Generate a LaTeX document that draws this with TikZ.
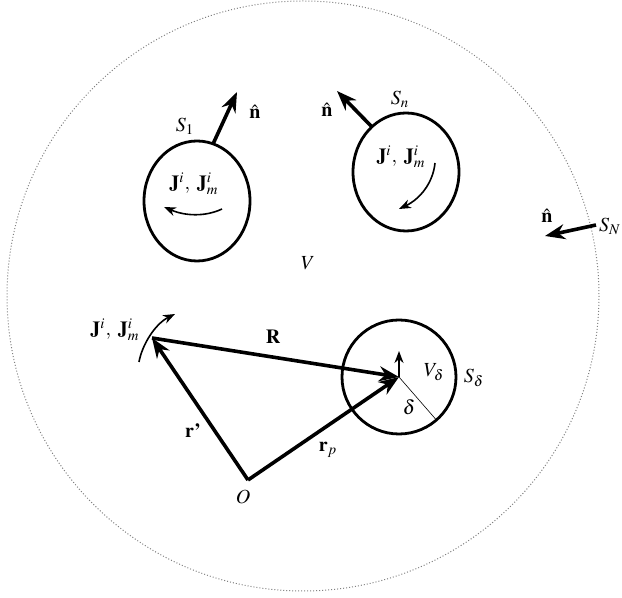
\documentclass[tikz,border=0pt]{standalone}
\usepackage{amsmath}
\usepackage[T1]{fontenc}
\usepackage{mathptmx}
\usetikzlibrary{arrows.meta, calc}
\tikzset{
    vett/.style={line width=1.8pt, -{Stealth[length=10pt, width=7.5pt]}},
    giro/.style={line width=0.8pt, -{Stealth[length=6pt, width=4.5pt]}},
    bordo/.style={line width=1.4pt},
    etich/.style={inner sep=1pt}
}

\begin{document}
\begin{tikzpicture}[x=0.5pt, y=-0.5pt]
    \useasboundingbox (0,0) rectangle (622,598);

    % Volume V e superficie esterna S_N
    \draw[gray, densely dotted, line width=0.5pt] (303,296) ellipse [x radius=296, y radius=295];
    \node[etich] (V) at (308,263) {$V$};
    \coordinate (nN0) at (596,225);
    \coordinate (nN1) at (545,236);
    \draw[vett] (nN0) -- (nN1);
    \node[etich] (SN) at (610,226) {$S_N$};
    \node[etich] (nN) at (547,216) {$\hat{\mathbf{n}}$};

    % Superficie S_1
    \draw[bordo] (197,201) ellipse [x radius=53, y radius=60];
    \coordinate (n10) at (213,144);
    \coordinate (n11) at (237,92);
    \draw[vett] (n10) -- (n11);
    \node[etich] (S1) at (185,126) {$S_1$};
    \node[etich] (n1) at (255,112) {$\hat{\mathbf{n}}$};
    \node[etich] (J1) at (194,184) {$\mathbf{J}^i,\; \mathbf{J}_m^i$};
    \coordinate (g10) at (222,209);
    \coordinate (g11) at (164,207);
    \draw[giro] (g10) .. controls (205,217) and (185,216) .. (g11);

    % Superficie S_n
    \draw[bordo] (406,172) ellipse [x radius=53, y radius=59];
    \coordinate (nn0) at (372,127);
    \coordinate (nn1) at (337,91);
    \draw[vett] (nn0) -- (nn1);
    \node[etich] (Sn) at (400,99) {$S_n$};
    \node[etich] (nn) at (327,110) {$\hat{\mathbf{n}}$};
    \node[etich] (Jn) at (401,157) {$\mathbf{J}^i,\; \mathbf{J}_m^i$};
    \coordinate (gn0) at (435,163);
    \coordinate (gn1) at (399,209);
    \draw[giro] (gn0) .. controls (433,183) and (420,199) .. (gn1);

    % Punto di osservazione e volume V_delta
    \coordinate (O) at (248,480);
    \coordinate (J) at (152,338);
    \coordinate (P) at (399,377);
    \draw[bordo] (P) circle [radius=57];
    \draw[line width=0.3pt] (P) -- ($(P)+(49:57)$);
    \coordinate (Pu) at (399,351);
    \draw[line width=1.1pt, -{Stealth[length=6pt, width=4.5pt]}] (P) -- (Pu);
    \node[etich] (Vd) at (434,372) {$V_\delta$};
    \node[etich] (Sd) at (474,378) {$S_\delta$};
    \node[etich] (d) at (409,407) {$\delta$};

    % Vettori r', r_p e R
    \draw[vett] (O) -- (J);
    \draw[vett] (O) -- (P);
    \draw[vett] (J) -- (P);
    \node[etich] (O lab) at (243,497) {$O$};
    \node[etich] (r') at (193,431) {\textbf{r'}};
    \node[etich] (rp) at (328,450) {$\mathbf{r}_p$};
    \node[etich] (R) at (273,337) {$\mathbf{R}$};

    % Sorgente in r'
    \node[etich] (Jr) at (115,330) {$\mathbf{J}^i,\; \mathbf{J}_m^i$};
    \coordinate (gr0) at (139,362);
    \coordinate (gr1) at (175,314);
    \draw[giro] (gr0) .. controls (142,345) and (155,324) .. (gr1);
\end{tikzpicture}
\end{document}
